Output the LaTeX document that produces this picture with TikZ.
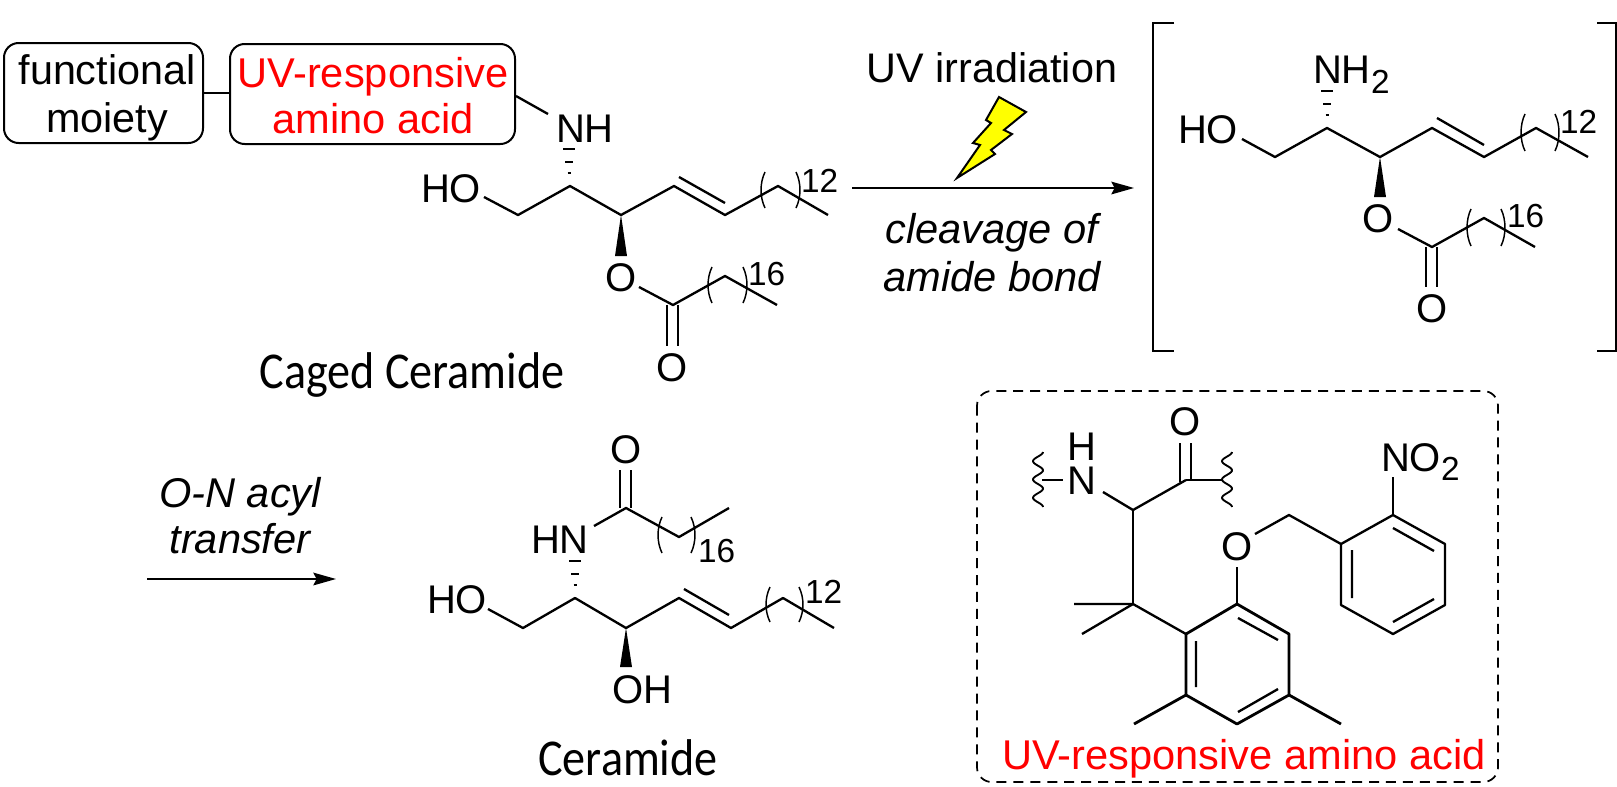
\documentclass[tikz,border=0pt]{standalone}
\usepackage{graphicx}
\usepackage{fontspec}
\setmainfont{Liberation Sans}
\newfontfamily\handfont{Carlito}
\usetikzlibrary{arrows.meta}
\newcommand{\pxfont}[1]{\fontsize{#1}{#1}\selectfont}
\newcommand{\handtext}[1]{\scalebox{1}[1.12]{#1}}
\tikzset{
  bond/.style={line width=1.75pt,line join=round,black},
  bondh/.style={line width=2.1pt,line join=round,black},
  thinb/.style={line width=1.1pt,black},
  atom/.style={inner sep=0pt,outer sep=0pt,anchor=base west,font=\pxfont{30}},
  idx/.style={inner sep=0pt,outer sep=0pt,anchor=base west,font=\pxfont{25}},
  lab/.style={inner sep=0pt,outer sep=0pt,anchor=base},
  ital/.style={lab,font=\pxfont{31.2}\itshape},
  redlab/.style={lab,text=red,font=\pxfont{31.2}},
  blab/.style={lab,font=\pxfont{31}},
  hand/.style={lab,font=\handfont\pxfont{34.6}},
  rbox/.style={draw,line width=1.5pt,rounded corners=11pt,inner sep=0pt,outer sep=0pt,anchor=north west},
  rxn/.style={line width=1.5pt,-{Stealth[length=17pt,width=9.5pt,inset=2.5pt]}}
}
\newcommand{\parens}[4]{% xl xr y1 y2
  \draw[thinb] (#1,#3) .. controls (#1-5.3,#3+11) and (#1-5.3,#4-11) .. (#1,#4);
  \draw[thinb] (#2,#3) .. controls (#2+5.3,#3+11) and (#2+5.3,#4-11) .. (#2,#4);}
\newcommand{\hashb}[2]{% apex x, apex y (dashes go upward)
  \draw[line width=1.7pt] (#1-6,#2-37) -- (#1+6,#2-37);
  \draw[line width=1.7pt] (#1-4,#2-24) -- (#1+4,#2-24);
  \draw[line width=1.3pt] (#1-1.5,#2-13) -- (#1+1.5,#2-13);}
\newcommand{\wedgeb}[3]{% apex x, apex y, end y
  \fill (#1,#2) -- (#1-6,#3) -- (#1+6,#3) -- cycle;}
\newcommand{\wavy}[1]{%
  \draw[line width=1.4pt] plot[smooth,domain=0:55,samples=50] ({#1+5*cos(\x*19.67)},{452+\x});}
\begin{document}
\begin{tikzpicture}[x=0.75pt,y=-0.75pt]
\useasboundingbox (0,0) rectangle (1617,786);
% ---- boxes
\node[rbox,minimum width=149.25pt,minimum height=75pt] (fm) at (4,43) {};
\node[rbox,minimum width=213.75pt,minimum height=75pt] (uv) at (230,44) {};
\draw[bond] (fm.east) -- (uv.west |- fm.east);
\node[blab] (t1) at (107,84) {functional};
\node[blab] (t2) at (107,132) {moiety};
\node[redlab] (t3) at (373,87) {UV-responsive};
\node[redlab] (t4) at (373,133) {amino acid};
% ---- caged ceramide
\node[atom] (nh1) at (556,142) {NH};
\draw[bond] (516,96) -- (548,114);
\hashb{569}{186}
\node[atom] (ho1) at (421,202) {HO};
\draw[bond] (484,197) -- (518,215) -- (570,186) -- (621,215) -- (674,186) -- (725,215) -- (778,186) -- (828,215);
\draw[bond] (679,177) -- (725,203);
\parens{765}{796}{172}{208}
\node[idx] (n12a) at (801,192) {12};
\wedgeb{621}{215}{256}
\node[atom,anchor=base] (o1a) at (621,291) {O};
\draw[bond] (639,287) -- (673,305) -- (725,276) -- (777,305);
\draw[bond] (667,305) -- (667,346) (678,305) -- (678,346);
\node[atom,anchor=base] (o1b) at (672,381) {O};
\parens{712}{743}{267}{303}
\node[idx] (n16a) at (748,285) {16};
\node[hand] (cc) at (412,388) {\handtext{Caged Ceramide}};
% ---- UV arrow
\draw[rxn] (852,188) -- (1134,188);
\node[blab] (uvi) at (992,82) {UV irradiation};
\draw[line width=1.5pt,line join=miter,fill={rgb,255:red,255;green,255;blue,0}]
  (957,178) -- (980,145) -- (973,143) -- (991,123) -- (986,120) -- (999,97) -- (1026,112) -- (1004,130) -- (1012,134) -- (991,150) -- (995,154) -- cycle;
\node[ital] (cl) at (992,243) {cleavage of};
\node[ital] (am) at (992,291) {amide bond};
% ---- brackets
\draw[line width=1.5pt] (1174,23) -- (1153,23) -- (1153,351) -- (1174,351);
\draw[line width=1.5pt] (1597,23) -- (1616,23) -- (1616,351) -- (1597,351);
% ---- intermediate
\node[atom] (nh2) at (1313,83) {NH};
\node[idx] (sub2a) at (1371,93) {2};
\hashb{1327}{128}
\node[atom] (ho2) at (1178,143) {HO};
\draw[bond] (1242,139) -- (1275,157) -- (1327,128) -- (1380,157) -- (1432,128) -- (1484,157) -- (1536,128) -- (1588,157);
\draw[bond] (1437,118) -- (1484,145);
\parens{1525}{1555}{114}{151}
\node[idx] (n12b) at (1560,133) {12};
\wedgeb{1380}{157}{197}
\node[atom,anchor=base] (o2a) at (1378,232) {O};
\draw[bond] (1398,229) -- (1432,247) -- (1484,218) -- (1535,247);
\draw[bond] (1426,247) -- (1426,287) (1437,247) -- (1437,287);
\node[atom,anchor=base] (o2b) at (1432,322) {O};
\parens{1471}{1501}{209}{246}
\node[idx] (n16b) at (1507,227) {16};
% ---- acyl transfer
\node[ital] (on) at (240,507) {O-N acyl};
\node[ital] (tr) at (240,553) {transfer};
\draw[rxn] (147,579) -- (336,579);
% ---- ceramide
\node[atom,anchor=base] (o3a) at (626,463) {O};
\draw[bond] (620,470) -- (620,508) (631,470) -- (631,508);
\node[atom] (hn3) at (531,553) {HN};
\draw[bond] (594,526) -- (626,508) -- (679,537) -- (729,508);
\parens{662}{691}{517}{553}
\node[idx] (n16c) at (698,562) {16};
\hashb{575}{598}
\node[atom] (ho3) at (427,613) {HO};
\draw[bond] (488,609) -- (523,628) -- (575,598) -- (626,628) -- (679,598) -- (731,628) -- (783,598) -- (834,628);
\draw[bond] (684,589) -- (729,615);
\parens{770}{799}{587}{622}
\node[idx] (n12c) at (805,603) {12};
\wedgeb{626}{628}{667}
\node[atom] (oh3) at (612,703) {OH};
\node[hand] (cer) at (628,775) {\handtext{Ceramide}};
% ---- dashed box
\draw[line width=1.3pt,dash pattern=on 7.5pt off 5.2pt,rounded corners=11pt] (977,391) rectangle (1498,782);
\node[redlab] (uvaa) at (1244,769) {UV-responsive amino acid};
\node[inner sep=0pt,outer sep=0pt,anchor=center,align=center,font=\fontsize{30}{25.5}\selectfont] (hn4) at (1082,463.5) {H\\N};
\node[atom,anchor=base] (o4a) at (1185,435) {O};
\wavy{1038}
\wavy{1227}
\draw[bond] (1042,480) -- (1063,480);
\draw[bond] (1186,480) -- (1222,480);
\draw[bond] (1180,443) -- (1180,482) (1191,443) -- (1191,480);
\draw[bond] (1103,492) -- (1133,510) -- (1186,480);
\draw[bondh] (1133,510) -- (1133,604);
\draw[bond] (1074,604) -- (1133,604) -- (1186,634);
\draw[bond] (1082,634) -- (1133,604);
\draw[bondh] (1186,634) -- (1237,604) -- (1289,634) -- (1289,695) -- (1237,724) -- (1186,695) -- cycle;
\draw[bond] (1238,618) -- (1278,640) (1196,641) -- (1196,687) (1238,712) -- (1278,689);
\draw[bondh] (1186,695) -- (1134,724) (1289,695) -- (1341,724);
\node[atom,anchor=base] (o4b) at (1237,560) {O};
\draw[bond] (1237,567) -- (1237,604);
\draw[bond] (1255,534) -- (1289,515) -- (1341,544);
\draw[bond] (1341,544) -- (1393,515) -- (1445,544) -- (1445,605) -- (1393,634) -- (1341,605) -- cycle;
\draw[bond] (1393,528) -- (1434,551) (1352,550) -- (1352,598) (1393,622) -- (1434,599);
\draw[bond] (1393,477) -- (1393,515);
\node[atom] (no2) at (1381,471) {NO};
\node[idx] (sub2b) at (1441,480) {2};
\end{tikzpicture}
\end{document}
